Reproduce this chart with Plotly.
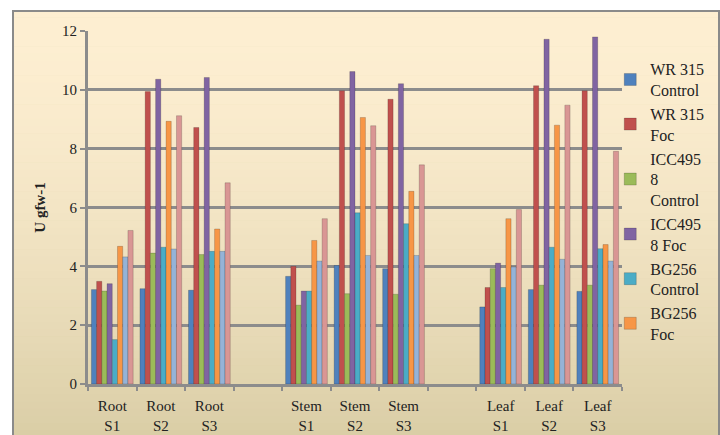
import plotly.graph_objects as go

categories = ["Root<br>S1", "Root<br>S2", "Root<br>S3", " ",
              "Stem<br>S1", "Stem<br>S2", "Stem<br>S3", "  ",
              "Leaf<br>S1", "Leaf<br>S2", "Leaf<br>S3"]

series_names = ["WR 315<br>Control", "WR 315<br>Foc", "ICC495<br>8<br>Control",
                "ICC495<br>8 Foc", "BG256<br>Control", "BG256<br>Foc",
                "Series 7", "Series 8"]

wr315_control = [3.21, 3.24, 3.19, None, 3.66, 4.03, 3.92, None, 2.62, 3.21, 3.15]
wr315_foc     = [3.49, 9.94, 8.72, None, 4.00, 9.97, 9.68, None, 3.28, 10.14, 9.97]
icc4958_ctrl  = [3.16, 4.45, 4.40, None, 2.68, 3.07, 3.05, None, 3.92, 3.36, 3.36]
icc4958_foc   = [3.41, 10.36, 10.42, None, 3.16, 10.62, 10.21, None, 4.11, 11.72, 11.80]
bg256_control = [1.51, 4.65, 4.51, None, 3.16, 5.82, 5.45, None, 3.28, 4.65, 4.60]
bg256_foc     = [4.68, 8.93, 5.27, None, 4.88, 9.06, 6.55, None, 5.62, 8.80, 4.74]
series7       = [4.32, 4.59, 4.51, None, 4.18, 4.37, 4.37, None, 3.98, 4.24, 4.18]
series8       = [5.22, 9.12, 6.84, None, 5.62, 8.78, 7.45, None, 5.93, 9.48, 7.91]

values = [wr315_control, wr315_foc, icc4958_ctrl, icc4958_foc,
          bg256_control, bg256_foc, series7, series8]
colors = ["#4F81BD", "#C0504D", "#9BBB59", "#8064A2",
          "#4BACC6", "#F79646", "#95B3D7", "#D99694"]
shown = [True, True, True, True, True, True, False, False]

fig = go.Figure()
for name, vals, col, sh in zip(series_names, values, colors, shown):
    fig.add_trace(go.Bar(x=categories, y=vals, name=name, marker_color=col,
                         marker_line=dict(width=0.5, color="rgba(0,0,0,0.35)"),
                         showlegend=sh))

# gradient background + frame
shapes = []
W, H = 720, 435
l, r, t, b = 88, 98, 31, 51
pw, ph = W - l - r, H - t - b
def px2paper_x(px): return (px - l) / pw
def px2paper_y(py): return (H - b - py) / ph
top_c = (254, 239, 210)
bot_c = (217, 205, 165)
y0p, y1p = 10, 445
n = 60
# white margins at top and left
shapes.append(dict(type="rect", xref="paper", yref="paper",
                   x0=px2paper_x(-5), x1=px2paper_x(725),
                   y0=px2paper_y(10), y1=px2paper_y(-5),
                   fillcolor="white", line_width=0, layer="below"))
shapes.append(dict(type="rect", xref="paper", yref="paper",
                   x0=px2paper_x(-5), x1=px2paper_x(12),
                   y0=px2paper_y(460), y1=px2paper_y(-5),
                   fillcolor="white", line_width=0, layer="below"))
for i in range(n):
    ya = y0p + (y1p - y0p) * i / n
    yb = y0p + (y1p - y0p) * (i + 1) / n
    f = (i + 0.5) / n
    f = f ** 1.6
    c = tuple(int(top_c[k] + (bot_c[k] - top_c[k]) * f) for k in range(3))
    shapes.append(dict(type="rect", xref="paper", yref="paper",
                       x0=px2paper_x(12), x1=px2paper_x(725),
                       y0=px2paper_y(yb + 0.5), y1=px2paper_y(ya),
                       fillcolor="rgb(%d,%d,%d)" % c, line_width=0, layer="below"))
shapes.append(dict(type="rect", xref="paper", yref="paper",
                   x0=px2paper_x(13), x1=px2paper_x(719),
                   y0=px2paper_y(460), y1=px2paper_y(11),
                   line=dict(color="#8a8a8a", width=2), fillcolor="rgba(0,0,0,0)",
                   layer="below"))

fig.update_layout(
    width=W, height=H,
    margin=dict(l=l, r=r, t=t, b=b, autoexpand=False),
    paper_bgcolor="rgb(%d,%d,%d)" % bot_c,
    plot_bgcolor="rgba(0,0,0,0)",
    barmode="group", bargap=0.14, bargroupgap=0.0,
    font=dict(family="Liberation Serif", size=14, color="#222"),
    shapes=shapes,
    legend=dict(x=0.978, y=0.94, xanchor="left", yanchor="top",
                bgcolor="rgba(0,0,0,0)", font=dict(size=16, family="Liberation Serif"),
                tracegroupgap=8, itemwidth=30),
    yaxis=dict(range=[0, 12], dtick=2, showgrid=True, gridcolor="#8c8c8c", gridwidth=3,
               showline=True, linecolor="#8c8c8c", linewidth=3,
               ticks="outside", ticklen=5, tickcolor="#8c8c8c", tickwidth=2,
               zeroline=False, tickfont=dict(size=15), automargin=False,
               title=dict(text="<b>U gfw-1</b>", font=dict(size=15), standoff=13)),
    xaxis=dict(type="category", showline=True, linecolor="#8c8c8c", linewidth=3,
               ticks="outside", tickson="boundaries", ticklen=4, tickcolor="#8c8c8c",
               tickwidth=2, showgrid=False, tickangle=0, tickfont=dict(size=15),
               ticklabelstandoff=6, automargin=False),
)

fig.write_html("out.html", config={"displayModeBar": False},
               post_script="document.body.style.margin='0px';"
                           "document.body.style.background='rgb(217,205,165)';")
